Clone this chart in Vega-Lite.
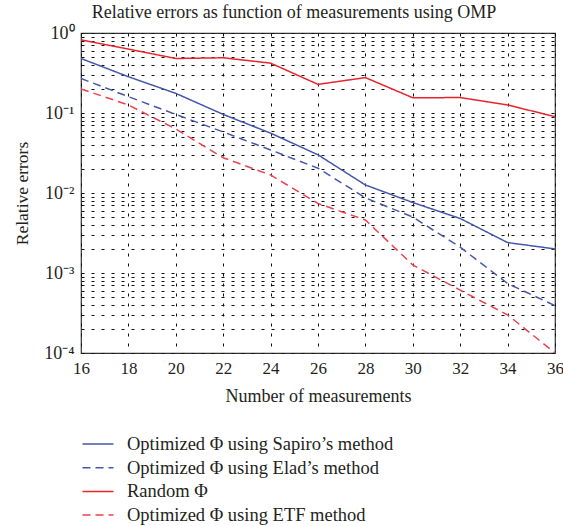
{
  "$schema": "https://vega.github.io/schema/vega-lite/v6.json",
  "autosize": "none",
  "padding": {"left": 81, "top": 33, "right": 8, "bottom": 173},
  "width": 474,
  "height": 320,
  "config": {
    "font": "Liberation Serif",
    "view": {"stroke": "#333333", "strokeWidth": 1.2},
    "axis": {"labelFont": "Liberation Serif", "titleFont": "Liberation Serif", "labelColor": "#231f20", "titleColor": "#231f20", "titleFontWeight": "normal", "domain": false}
  },
  "title": {"text": "Relative errors as function of measurements using OMP", "font": "Liberation Serif", "fontSize": 18, "fontWeight": "normal", "color": "#231f20", "offset": 2, "dx": -24},
  "data": {"values": [
    {"n": 16, "err": 0.48, "series": "Optimized Φ using Sapiro’s method"},
    {"n": 18, "err": 0.284, "series": "Optimized Φ using Sapiro’s method"},
    {"n": 20, "err": 0.176, "series": "Optimized Φ using Sapiro’s method"},
    {"n": 22, "err": 0.096, "series": "Optimized Φ using Sapiro’s method"},
    {"n": 24, "err": 0.056, "series": "Optimized Φ using Sapiro’s method"},
    {"n": 26, "err": 0.030, "series": "Optimized Φ using Sapiro’s method"},
    {"n": 28, "err": 0.0126, "series": "Optimized Φ using Sapiro’s method"},
    {"n": 30, "err": 0.0076, "series": "Optimized Φ using Sapiro’s method"},
    {"n": 32, "err": 0.0048, "series": "Optimized Φ using Sapiro’s method"},
    {"n": 34, "err": 0.0024, "series": "Optimized Φ using Sapiro’s method"},
    {"n": 36, "err": 0.0020, "series": "Optimized Φ using Sapiro’s method"},
    {"n": 16, "err": 0.27, "series": "Optimized Φ using Elad’s method"},
    {"n": 18, "err": 0.16, "series": "Optimized Φ using Elad’s method"},
    {"n": 20, "err": 0.096, "series": "Optimized Φ using Elad’s method"},
    {"n": 22, "err": 0.058, "series": "Optimized Φ using Elad’s method"},
    {"n": 24, "err": 0.0345, "series": "Optimized Φ using Elad’s method"},
    {"n": 26, "err": 0.0204, "series": "Optimized Φ using Elad’s method"},
    {"n": 28, "err": 0.0087, "series": "Optimized Φ using Elad’s method"},
    {"n": 30, "err": 0.0050, "series": "Optimized Φ using Elad’s method"},
    {"n": 32, "err": 0.0021, "series": "Optimized Φ using Elad’s method"},
    {"n": 34, "err": 0.00074, "series": "Optimized Φ using Elad’s method"},
    {"n": 36, "err": 0.00039, "series": "Optimized Φ using Elad’s method"},
    {"n": 16, "err": 0.82, "series": "Random Φ"},
    {"n": 18, "err": 0.63, "series": "Random Φ"},
    {"n": 20, "err": 0.48, "series": "Random Φ"},
    {"n": 22, "err": 0.49, "series": "Random Φ"},
    {"n": 24, "err": 0.42, "series": "Random Φ"},
    {"n": 26, "err": 0.228, "series": "Random Φ"},
    {"n": 28, "err": 0.277, "series": "Random Φ"},
    {"n": 30, "err": 0.155, "series": "Random Φ"},
    {"n": 32, "err": 0.156, "series": "Random Φ"},
    {"n": 34, "err": 0.126, "series": "Random Φ"},
    {"n": 36, "err": 0.09, "series": "Random Φ"},
    {"n": 16, "err": 0.2, "series": "Optimized Φ using ETF method"},
    {"n": 18, "err": 0.126, "series": "Optimized Φ using ETF method"},
    {"n": 20, "err": 0.063, "series": "Optimized Φ using ETF method"},
    {"n": 22, "err": 0.0276, "series": "Optimized Φ using ETF method"},
    {"n": 24, "err": 0.0168, "series": "Optimized Φ using ETF method"},
    {"n": 26, "err": 0.0074, "series": "Optimized Φ using ETF method"},
    {"n": 28, "err": 0.0046, "series": "Optimized Φ using ETF method"},
    {"n": 30, "err": 0.00126, "series": "Optimized Φ using ETF method"},
    {"n": 32, "err": 0.00061, "series": "Optimized Φ using ETF method"},
    {"n": 34, "err": 0.0003, "series": "Optimized Φ using ETF method"},
    {"n": 36, "err": 0.0001, "series": "Optimized Φ using ETF method"}
  ]},
  "mark": {"type": "line", "strokeWidth": 1.5, "clip": true},
  "encoding": {
    "x": {
      "field": "n", "type": "quantitative",
      "scale": {"domain": [16, 36], "nice": false, "zero": false},
      "axis": {"values": [16, 18, 20, 22, 24, 26, 28, 30, 32, 34, 36], "title": "Number of measurements", "labelFontSize": 17, "titleFontSize": 18, "labelPadding": 7, "titlePadding": 11, "ticks": false, "grid": true, "gridColor": "#111111", "gridDash": [3, 7], "gridWidth": 1, "labelFlush": false}
    },
    "y": {
      "field": "err", "type": "quantitative",
      "scale": {"type": "log", "domain": [0.0001, 1], "nice": false},
      "axis": {
        "values": [0.0001, 0.0002, 0.0003, 0.0004, 0.0005, 0.0006, 0.0007, 0.0008, 0.0009, 0.001, 0.002, 0.003, 0.004, 0.005, 0.006, 0.007, 0.008, 0.009, 0.01, 0.02, 0.03, 0.04, 0.05, 0.06, 0.07, 0.08, 0.09, 0.1, 0.2, 0.3, 0.4, 0.5, 0.6, 0.7, 0.8, 0.9, 1],
        "labelExpr": "datum.value == 1 ? '10⁰' : datum.value == 0.1 ? '10⁻¹' : datum.value == 0.01 ? '10⁻²' : datum.value == 0.001 ? '10⁻³' : datum.value == 0.0001 ? '10⁻⁴' : ''",
        "title": "Relative errors", "labelFontSize": 18, "titleFontSize": 17.5, "labelPadding": 7, "titlePadding": 12, "ticks": false, "grid": true, "gridColor": "#111111", "gridDash": [3, 7], "gridWidth": 1, "labelFlush": false, "labelOverlap": false
      }
    },
    "color": {
      "field": "series", "type": "nominal",
      "scale": {"domain": ["Optimized Φ using Sapiro’s method", "Optimized Φ using Elad’s method", "Random Φ", "Optimized Φ using ETF method"], "range": ["#4556ad", "#4556ad", "#e8242b", "#f0414c"]},
      "legend": {"title": null, "orient": "none", "legendX": 6, "legendY": 400, "padding": 0, "symbolType": "M-1.55,0H1.55", "symbolSize": 400, "symbolStrokeWidth": 1.5, "labelFont": "Liberation Serif", "labelFontSize": 18.5, "labelColor": "#231f20", "labelOffset": 18, "rowPadding": 2.7, "labelLimit": 400}
    },
    "strokeDash": {
      "field": "series", "type": "nominal",
      "scale": {"domain": ["Optimized Φ using Sapiro’s method", "Optimized Φ using Elad’s method", "Random Φ", "Optimized Φ using ETF method"], "range": [[1, 0], [8, 5], [1, 0], [8, 5]]},
      "legend": {"title": null, "orient": "none", "legendX": 6, "legendY": 400, "padding": 0, "symbolType": "M-1.55,0H1.55", "symbolSize": 400, "symbolStrokeWidth": 1.5, "labelFont": "Liberation Serif", "labelFontSize": 18.5, "labelColor": "#231f20", "labelOffset": 18, "rowPadding": 2.7, "labelLimit": 400}
    }
  }
}
